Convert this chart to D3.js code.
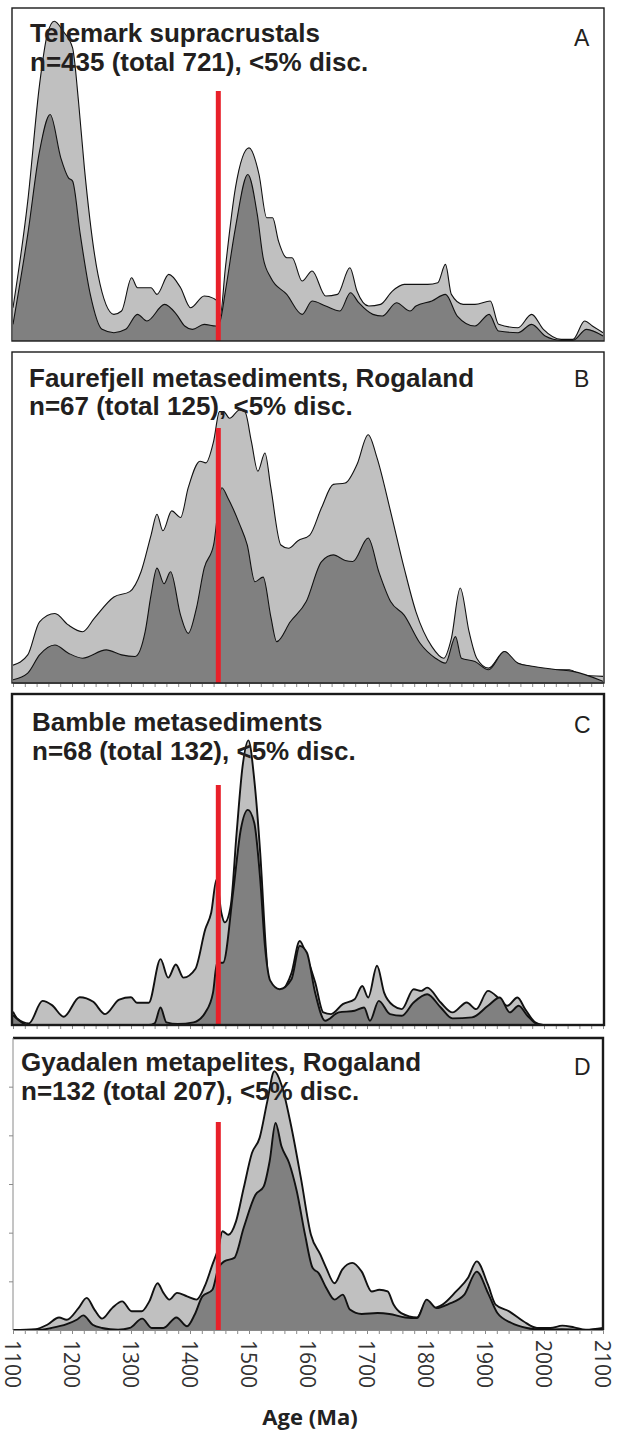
<!DOCTYPE html>
<html><head><meta charset="utf-8">
<script src="https://cdn.jsdelivr.net/npm/d3@7"></script>
<style>body{margin:0;background:#fff}svg{display:block}</style>
</head><body><svg id="chart" width="617" height="1430"></svg>
<script>
// ---------- DATA (age in Ma, relative probability as % of panel height) ----------
const xTickValues = [1100,1200,1300,1400,1500,1600,1700,1800,1900,2000,2100];
const minorTickValues = d3.range(1100, 2101, 20);
const redLineAge = 1448;
const panelLetters = ["A","B","C","D"];
const titleLine1 = ["Telemark supracrustals","Faurefjell metasediments, Rogaland","Bamble metasediments","Gyadalen metapelites, Rogaland"];
const titleLine2 = ["n=435 (total 721), <5% disc.","n=67 (total 125), <5% disc.","n=68 (total 132), <5% disc.","n=132 (total 207), <5% disc."];
const yTicksD = [1,2,3,4,5];   // of 6 units (panel D frame top = 6)
const axisTitle = "Age (Ma)";

const telemarkAll = [[1100,10],[1125,42],[1145,77],[1158,92],[1170,96],[1185,93],[1201,88],[1211,72],[1221,52],[1244,20],[1271,8],[1284,9],[1301,19],[1311,16],[1324,16],[1334,16],[1344,14],[1364,20],[1384,16],[1401,10],[1424,13.5],[1440,12.8],[1446,12],[1451,7.5],[1460,22],[1477,46],[1500,58],[1517,50],[1530,37],[1540,37],[1550,30],[1564,25],[1573,25],[1590,18],[1607,21],[1630,13.5],[1650,14],[1671,22],[1683,15],[1703,10.5],[1723,11],[1743,15],[1763,17],[1783,17],[1803,17],[1820,17.5],[1833,23],[1843,14],[1863,11],[1883,11],[1909,12],[1923,5],[1956,4],[1979,8],[1999,3.5],[2029,0.5],[2049,0.5],[2069,6],[2082,4.5],[2100,2.5]];
const telemarkConc = [[1100,5],[1125,32],[1145,57],[1163,68],[1181,55],[1194,49],[1201,48],[1214,32],[1231,14],[1251,3.5],[1271,2.5],[1291,3.5],[1311,8],[1327,6],[1357,11],[1377,8],[1391,4.5],[1404,3.5],[1424,5],[1444,4.5],[1451,6],[1460,15],[1477,34],[1498,50],[1514,38],[1524,25],[1537,19],[1564,14],[1590,8],[1607,12],[1630,10.5],[1654,9],[1672,14.5],[1686,11.5],[1710,8],[1726,7.5],[1750,11.5],[1773,9],[1783,10.5],[1810,12],[1833,14],[1853,7.5],[1883,4.5],[1907,8],[1923,3],[1956,2.5],[1979,5],[2002,1.5],[2029,0.2],[2049,0.2],[2072,3.5],[2100,1.5]];

const faurefjellAll = [[1100,5.4],[1125,8.5],[1145,18.5],[1171,21],[1194,17.5],[1218,15.5],[1238,19.6],[1271,26],[1298,27.6],[1317,33.6],[1334,44.7],[1344,51],[1354,46],[1369,52],[1384,50],[1397,59],[1417,67],[1427,66.5],[1440,73],[1450,82],[1457,82],[1467,80],[1484,82.5],[1493,82],[1504,73],[1515,64],[1527,69.5],[1537,59],[1554,41.7],[1567,40.7],[1583,43],[1603,44.7],[1623,53],[1643,60],[1663,60.4],[1683,66],[1702,75],[1717,68],[1740,51.8],[1763,34.7],[1783,21.5],[1810,11],[1830,7.5],[1843,13.5],[1858,28.7],[1873,15.5],[1886,7.5],[1906,4.5],[1933,9.5],[1950,6.5],[1976,5],[2009,4],[2043,4],[2063,2.5],[2100,2]];
const faurefjellConc = [[1100,1],[1125,3],[1145,8.5],[1171,11.5],[1194,9],[1218,7.5],[1258,10],[1284,8.5],[1307,8],[1324,15.5],[1334,26.6],[1344,34.7],[1356,30],[1367,33.6],[1384,20.5],[1397,15],[1411,22.7],[1424,34.7],[1440,41.7],[1454,59],[1464,56],[1484,48],[1497,41.7],[1510,30.6],[1524,32],[1537,20],[1547,12.5],[1570,18.5],[1597,24.6],[1623,36.7],[1643,38.7],[1663,37],[1676,36.7],[1702,43.8],[1720,33.6],[1740,24.6],[1763,20.5],[1790,12],[1816,7.5],[1833,6],[1850,14],[1860,7.5],[1883,6.5],[1906,4],[1933,9.5],[1956,6],[1983,5],[2023,4],[2049,3.5],[2100,0.5]];

const bambleAll = [[1100,4],[1107,2],[1127,0.5],[1150,7.3],[1166,6],[1186,2.5],[1213,8.4],[1236,7],[1256,3.3],[1280,7.7],[1300,8.4],[1310,6.7],[1330,6.7],[1350,19.9],[1363,14.3],[1376,18.3],[1389,14.3],[1409,16.9],[1426,29],[1436,34],[1445,44],[1453,34],[1459,31],[1469,36],[1479,58],[1489,78],[1499,86],[1509,74],[1519,52],[1529,22],[1536,7.8],[1552,9.3],[1572,15.7],[1586,25.4],[1599,20],[1612,13],[1626,3.8],[1639,3.3],[1659,6.3],[1679,7.8],[1692,11.8],[1702,8.3],[1717,17.9],[1729,9.8],[1745,5.8],[1759,4.8],[1779,10.8],[1792,10.3],[1802,11.3],[1825,6.8],[1845,3.8],[1869,6.8],[1885,4.8],[1905,10.3],[1925,7.8],[1938,5.8],[1955,8.3],[1968,4.8],[1985,0.8],[1998,0],[2100,0]];
const bambleConc = [[1100,3],[1113,1],[1125,0],[1330,0],[1340,0.5],[1350,5.3],[1360,0.8],[1379,0.3],[1406,0.8],[1426,3.8],[1439,9.8],[1446,18.8],[1456,18.8],[1473,40],[1486,59],[1498,65],[1509,61],[1519,44],[1527,23.9],[1536,13.4],[1552,10.8],[1572,13.8],[1586,23.9],[1598,21.9],[1612,9.8],[1629,1.3],[1652,3.8],[1679,4.3],[1695,5.3],[1705,1.3],[1720,7.3],[1739,3.3],[1759,2.8],[1779,6.8],[1802,9.3],[1825,5.3],[1845,2],[1878,2.3],[1905,5.8],[1925,8.3],[1942,3.8],[1957,5.8],[1972,2.8],[1988,0.3],[2000,0],[2100,0]];

const gyadalenAll = [[1100,0],[1138,0.3],[1158,1.8],[1178,4.3],[1191,3.5],[1211,7.5],[1225,11],[1238,7],[1251,3.9],[1268,7.5],[1285,9.8],[1301,6.4],[1318,6.4],[1331,9.8],[1345,16],[1355,12.7],[1365,10.4],[1378,12.7],[1395,11.5],[1411,10.4],[1425,15],[1438,22.4],[1448,28],[1455,33.8],[1465,32.6],[1478,37.2],[1491,48.6],[1505,60.6],[1518,65.8],[1531,78.3],[1543,88.6],[1555,84],[1571,70.3],[1588,52],[1605,32.6],[1621,25.8],[1631,21.2],[1645,16],[1658,20.7],[1675,23],[1691,20],[1708,13.2],[1721,13.8],[1735,13.2],[1745,8.7],[1758,5.8],[1785,4.3],[1798,8.4],[1811,7.5],[1828,8.7],[1851,13.2],[1871,17.8],[1886,23.5],[1905,15.5],[1918,8.7],[1941,6.4],[1965,3],[1988,0.7],[2011,0.7],[2031,1.5],[2051,0.9],[2071,0.1],[2100,0.7]];
const gyadalenConc = [[1100,0],[1140,0],[1165,0.7],[1191,2],[1208,3.5],[1219,5],[1235,1.8],[1251,0.7],[1278,0.1],[1298,0.7],[1319,3.9],[1335,0.7],[1355,0.7],[1377,4.3],[1395,1.3],[1408,5.3],[1421,11.5],[1438,13.8],[1448,21.2],[1458,23.5],[1475,24.7],[1491,35],[1511,46.3],[1525,49.2],[1535,57.8],[1545,70.9],[1555,62.9],[1568,57.2],[1581,47.5],[1595,32.6],[1608,21.2],[1618,19.5],[1631,14.4],[1645,10.4],[1659,12.1],[1671,7],[1691,5.5],[1718,5.8],[1738,5.5],[1765,4.3],[1785,4.1],[1801,10.4],[1818,7.5],[1838,8.9],[1865,12.1],[1886,20],[1905,12.7],[1921,5.8],[1945,2.4],[1971,0.7],[1998,0.1],[2030,0.3],[2060,0],[2100,0.2]];

const allSeries = [telemarkAll, faurefjellAll, bambleAll, gyadalenAll];
const concSeries = [telemarkConc, faurefjellConc, bambleConc, gyadalenConc];

// ---------- LAYOUT ----------
const panels = [
  {top:8,   bottom:341,  frameW:1.4, lineW:1.1, redTop:91,   t1:42,   t2:71,   tx:30, lx:574, ly:46,   ticks:false, box:true},
  {top:352, bottom:683,  frameW:1.4, lineW:1.1, redTop:428,  t1:387,  t2:415,  tx:29, lx:574, ly:387,  ticks:true,  box:true},
  {top:694, bottom:1025, frameW:2.4, lineW:1.9, redTop:785,  t1:731,  t2:760,  tx:32, lx:574, ly:733,  ticks:true,  box:true},
  {top:1038,bottom:1330, frameW:2.4, lineW:1.9, redTop:1122, t1:1071, t2:1100, tx:21, lx:574, ly:1075, ticks:true,  box:false}
];
const xLeft = 13, xRight = 603;
const lightFill = "#c0c0c0", darkFill = "#808080", red = "#e8202a";

const svg = d3.select("#chart");
const x = d3.scaleLinear().domain([1100, 2100]).range([xLeft, xRight]);

panels.forEach((p, i) => {
  const y = d3.scaleLinear().domain([0, 100]).range([p.bottom, p.top]);
  const g = svg.append("g");
  const clipId = "clip" + i;
  g.append("clipPath").attr("id", clipId).append("rect")
    .attr("x", xLeft).attr("y", p.top).attr("width", xRight - xLeft).attr("height", p.bottom - p.top);
  const area = d3.area().x(d => x(d[0])).y0(y(0)).y1(d => y(d[1])).curve(d3.curveMonotoneX);
  const line = d3.line().x(d => x(d[0])).y(d => y(d[1])).curve(d3.curveMonotoneX);
  const plot = g.append("g").attr("clip-path", `url(#${clipId})`);
  plot.append("path").datum(allSeries[i]).attr("d", area).attr("fill", lightFill);
  plot.append("path").datum(allSeries[i]).attr("d", line).attr("fill", "none").attr("stroke", "#111").attr("stroke-width", p.lineW);
  plot.append("path").datum(concSeries[i]).attr("d", area).attr("fill", darkFill);
  plot.append("path").datum(concSeries[i]).attr("d", line).attr("fill", "none").attr("stroke", "#111").attr("stroke-width", p.lineW);

  g.append("line").attr("x1", x(redLineAge)).attr("x2", x(redLineAge))
    .attr("y1", p.redTop).attr("y2", p.bottom).attr("stroke", red).attr("stroke-width", 5);

  if (p.ticks) {
    const ax = d3.axisBottom(x).tickValues(minorTickValues).tickSize(4).tickFormat("");
    const ag = g.append("g").attr("transform", `translate(0,${p.bottom})`).call(ax);
    ag.selectAll("line").attr("stroke", "#8a8a8a");
    ag.select(".domain").attr("stroke", "#8a8a8a");
  }

  if (p.box) {
    g.append("rect").attr("x", xLeft - 1).attr("y", p.top).attr("width", xRight - xLeft + 2).attr("height", p.bottom - p.top)
      .attr("fill", "none").attr("stroke", "#1a1a1a").attr("stroke-width", p.frameW);
  } else {
    g.append("path").attr("d", `M${xLeft},${p.top}H${xRight}V${p.bottom}`)
      .attr("fill", "none").attr("stroke", "#1a1a1a").attr("stroke-width", p.frameW);
    const yD = d3.scaleLinear().domain([0, 6]).range([p.bottom, p.top]);
    const ay = d3.axisLeft(yD).tickValues(yTicksD).tickSize(4).tickFormat("");
    const ayg = g.append("g").attr("transform", `translate(${xLeft},0)`).call(ay);
    ayg.selectAll("line").attr("stroke", "#8a8a8a");
    ayg.select(".domain").attr("stroke", "#8a8a8a").attr("d", `M0,${p.top}V${p.bottom}`);
  }

  const tf = "'Liberation Sans', Arial, sans-serif";
  g.append("text").attr("x", p.tx).attr("y", p.t1).text(titleLine1[i])
    .attr("font-family", tf).attr("font-weight", "bold").attr("font-size", 26).attr("fill", "#231f20");
  g.append("text").attr("x", p.tx).attr("y", p.t2).text(titleLine2[i])
    .attr("font-family", tf).attr("font-weight", "bold").attr("font-size", 26).attr("fill", "#231f20");
  g.append("text").attr("x", p.lx).attr("y", p.ly).text(panelLetters[i])
    .attr("font-family", tf).attr("font-size", 23).attr("fill", "#231f20");
});

const last = panels[3];
svg.append("g").selectAll("text").data(xTickValues).join("text")
  .attr("transform", d => `translate(${x(d) - 1},${last.bottom + 10}) rotate(90)`)
  .attr("dy", "0.35em").attr("text-anchor", "start")
  .attr("font-family", "'Open Sans', sans-serif").attr("font-size", 21).attr("fill", "#333")
  .text(d => d);

svg.append("text").attr("x", 310).attr("y", 1425).attr("text-anchor", "middle")
  .attr("font-family", "'Open Sans', sans-serif").attr("font-weight", "bold").attr("font-size", 22).attr("fill", "#222")
  .text(axisTitle);
</script>
</body></html>
